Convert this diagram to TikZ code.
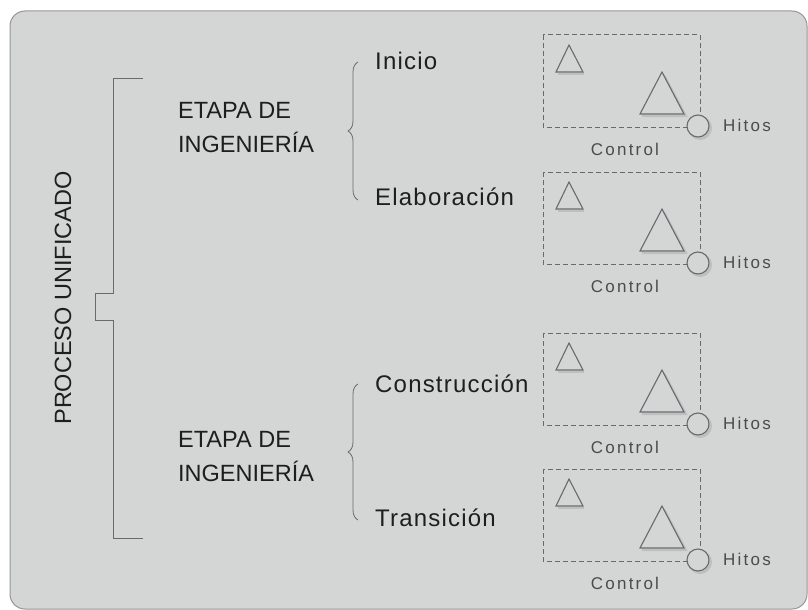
\documentclass[tikz,border=0pt]{standalone}
\usepackage{fontspec}
\setmainfont{Liberation Sans}
\usetikzlibrary{decorations.pathreplacing}
\definecolor{panelbg}{RGB}{212,214,214}
\definecolor{panelline}{RGB}{150,150,155}
\definecolor{linegray}{RGB}{105,105,110}
\definecolor{shadowgray}{RGB}{190,192,192}
\definecolor{darktext}{RGB}{30,30,30}
\definecolor{softtext}{RGB}{75,75,75}
\tikzset{
  bigtext/.style={font=\fontsize{23.5}{34}\selectfont, text=darktext, inner sep=0pt, align=left},
  phasetext/.style={font=\addfontfeature{LetterSpace=5}\fontsize{24}{28}\selectfont, text=darktext, inner sep=0pt},
  smalltext/.style={font=\addfontfeature{LetterSpace=13}\fontsize{17}{20}\selectfont, text=softtext, inner sep=0pt},
  bracketline/.style={draw=linegray, line width=0.9pt},
  curly/.style={draw=linegray, line width=0.8pt, decorate, decoration={brace, amplitude=10pt}},
  dashbox/.style={draw=linegray, line width=1pt, dash pattern=on 5pt off 3pt},
  tri/.style={draw=linegray, line width=1.1pt, line join=miter},
  trishadow/.style={draw=shadowgray, line width=2pt},
  milestone/.style={circle, draw=linegray, line width=1.1pt, fill=panelbg, minimum size=22pt, inner sep=0pt}
}
\begin{document}
\begin{tikzpicture}[x=1pt,y=-1pt]
\useasboundingbox (0,0) rectangle (808,610);
\fill[white] (0,0) rectangle (808,610);
\draw[fill=panelbg, draw=panelline, line width=1pt, rounded corners=15pt] (10,11) rectangle (807,609);

% main bracket
\coordinate (bt) at (143,78);
\coordinate (bb) at (143,538);
\draw[bracketline] (bt) -- (113,78) -- (113,293) -- (95,293) -- (95,320) -- (113,320) -- (113,538) -- (bb);

\node[bigtext, rotate=90] (proc) at (63,298) {PROCESO UNIFICADO};

\node[bigtext, anchor=base west] (etapa1) at (178,118) {ETAPA DE};
\node[bigtext, anchor=base west] (ing1) at (178,152) {INGENIERÍA};
\node[bigtext, anchor=base west] (etapa2) at (178,447) {ETAPA DE};
\node[bigtext, anchor=base west] (ing2) at (178,481) {INGENIERÍA};

% curly braces
\coordinate (c1b) at (358,200);
\coordinate (c1t) at (358,62);
\coordinate (c2b) at (358,520);
\coordinate (c2t) at (358,384);
\draw[curly] (c1b) -- (c1t);
\draw[curly] (c2b) -- (c2t);

\node[phasetext, anchor=base west] (inicio) at (375,70) {Inicio};
\node[phasetext, anchor=base west] (elab) at (375,205) {Elaboración};
\node[phasetext, anchor=base west] (constr) at (375,392) {Construcción};
\node[phasetext, anchor=base west] (trans) at (375,526) {Transición};

% control boxes
\foreach \T/\n in {35/1,172/2,333/3,469/4}{
  \draw[dashbox] (543,\T) rectangle (700,\T+92);
  \draw[trishadow] (584,\T+39) -- (558,\T+39);
  \draw[trishadow] (664,\T+40) -- (686,\T+81) -- (642,\T+81);
  \draw[tri] (569,\T+10) -- (583,\T+37) -- (556,\T+37) -- cycle;
  \draw[tri] (662,\T+37) -- (684,\T+79) -- (640,\T+79) -- cycle;
  \fill[shadowgray] (700,\T+93) circle (12);
  \node[milestone] (hito\n) at (698,\T+91) {};
  \node[smalltext, anchor=base west] (hitos\n) at (723,\T+96) {Hitos};
  \node[smalltext, anchor=base] (control\n) at (625,\T+120) {Control};
}
\end{tikzpicture}
\end{document}
